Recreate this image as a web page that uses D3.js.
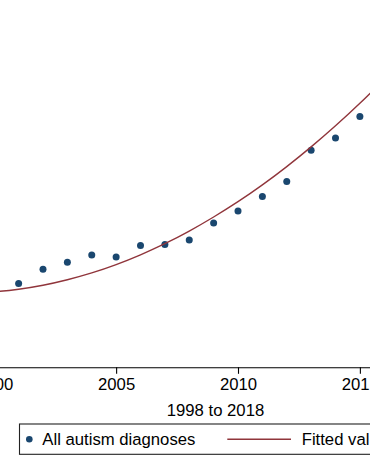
<!DOCTYPE html>
<html>
<head>
<meta charset="utf-8">
<script src="https://d3js.org/d3.v7.min.js"></script>
<style>
  body { margin: 0; background: #fff; }
  svg text { font-family: "Liberation Sans", Arial, sans-serif; fill: #000; }
</style>
</head>
<body>
<div id="chart"></div>
<script>
// observed yearly values (visible part of the chart)
var years = [2001, 2002, 2003, 2004, 2005, 2006, 2007, 2008, 2009, 2010, 2011, 2012, 2013, 2014, 2015];
var diagnoses = [8.37, 9.8, 10.5, 11.23, 11.03, 12.17, 12.27, 12.73, 14.43, 15.63, 17.07, 18.57, 21.7, 22.93, 25.07];

// fitted values
var fitYears = [1999, 2000, 2001, 2002, 2003, 2004, 2005, 2006, 2007, 2008, 2009, 2010, 2011, 2012, 2013, 2014, 2015, 2016];
var fitted = [7.43, 7.55, 7.81, 8.21, 8.76, 9.44, 10.27, 11.25, 12.36, 13.62, 15.03, 16.56, 18.24, 20.07, 22.04, 24.15, 26.4, 28.8];

var xTicks = [2000, 2005, 2010, 2015];
var xTitle = "1998 to 2018";
var legendLabels = ["All autism diagnoses", "Fitted values"];

var width = 370, height = 456;

var svg = d3.select("#chart").append("svg")
  .attr("width", width)
  .attr("height", height);

// scales
var x = d3.scaleLinear()
  .domain([1998, 2018])
  .range([-54.5, 433]);

var y = d3.scaleLinear()
  .domain([0, 40])
  .range([367.3, -32.7]);

// x axis
var xAxis = svg.append("g")
  .attr("transform", "translate(0," + y(0) + ")")
  .call(d3.axisBottom(x).tickValues(xTicks).tickFormat(d3.format("d")).tickSize(6.5).tickPadding(4));

xAxis.select(".domain").attr("stroke", "#000").attr("stroke-width", 1.1);
xAxis.selectAll(".tick line").attr("stroke", "#000").attr("stroke-width", 1.1);
xAxis.selectAll(".tick text")
  .attr("font-size", "16.7px")
  .attr("font-family", "Liberation Sans, Arial, sans-serif")
  .attr("fill", "#000");

svg.append("text")
  .attr("x", 215.5)
  .attr("y", 415.5)
  .attr("text-anchor", "middle")
  .attr("font-size", "16.7px")
  .text(xTitle);

// scatter points
svg.append("g").selectAll("circle")
  .data(years)
  .enter().append("circle")
  .attr("cx", function(d) { return x(d); })
  .attr("cy", function(d, i) { return y(diagnoses[i]); })
  .attr("r", 3.5)
  .attr("fill", "#1a476f");

// fitted line on top
var line = d3.line()
  .x(function(d) { return x(d); })
  .y(function(d, i) { return y(fitted[i]); })
  .curve(d3.curveNatural);

svg.append("path")
  .datum(fitYears)
  .attr("d", line)
  .attr("fill", "none")
  .attr("stroke", "#90353b")
  .attr("stroke-width", 1.4);

// legend
var legend = svg.append("g");

legend.append("rect")
  .attr("x", 19.5)
  .attr("y", 424)
  .attr("width", 400)
  .attr("height", 30.3)
  .attr("fill", "#fff")
  .attr("stroke", "#222")
  .attr("stroke-width", 1.1);

legend.append("circle")
  .attr("cx", 29.3)
  .attr("cy", 439.3)
  .attr("r", 3.3)
  .attr("fill", "#1a476f");

legend.append("text")
  .attr("x", 42.3)
  .attr("y", 445.3)
  .attr("font-size", "16.7px")
  .text(legendLabels[0]);

legend.append("line")
  .attr("x1", 227.3)
  .attr("x2", 291)
  .attr("y1", 439.3)
  .attr("y2", 439.3)
  .attr("stroke", "#90353b")
  .attr("stroke-width", 1.4);

legend.append("text")
  .attr("x", 301.7)
  .attr("y", 445.3)
  .attr("font-size", "16.7px")
  .text(legendLabels[1]);
</script>
</body>
</html>
